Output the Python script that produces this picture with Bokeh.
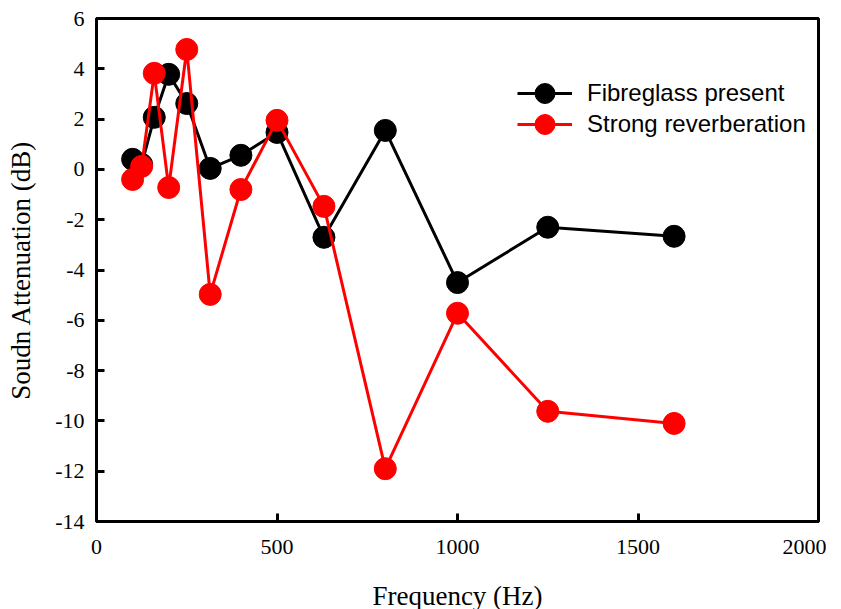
from bokeh.plotting import figure
from bokeh.models import Range1d, FixedTicker, Legend, LegendItem, CustomJSTickFormatter
from bokeh.embed import file_html
from bokeh.resources import INLINE

freq = [100, 125, 160, 200, 250, 315, 400, 500, 630, 800, 1000, 1250, 1600]
fibreglass = [0.4, 0.2, 2.07, 3.78, 2.62, 0.04, 0.56, 1.47, -2.7, 1.55, -4.5, -2.3, -2.66]
reverb = [-0.4, 0.12, 3.82, -0.72, 4.77, -4.97, -0.8, 1.95, -1.47, -11.9, -5.72, -9.62, -10.1]
x_ticks = [0, 500, 1000, 1500, 2000]
y_ticks = list(range(-14, 7, 2))

p = figure(frame_width=722, frame_height=503, output_backend="svg", toolbar_location=None,
           x_range=Range1d(0, 2000), y_range=Range1d(-14, 6),
           min_border_left=96, min_border_right=8, min_border_top=18, min_border_bottom=70)
p.background_fill_color = "white"
p.border_fill_color = "white"
p.grid.visible = False
p.outline_line_color = "black"
p.outline_line_width = 3

fmt = CustomJSTickFormatter(code="return tick.toString();")
for ax in (p.xaxis[0], p.yaxis[0]):
    ax.axis_line_width = 3
    ax.axis_line_color = "black"
    ax.major_tick_in = 8
    ax.major_tick_out = 0
    ax.major_tick_line_width = 3
    ax.minor_tick_line_color = None
    ax.formatter = fmt
    ax.major_label_text_font = "Liberation Serif"
    ax.major_label_text_font_size = "22px"
    ax.major_label_text_color = "black"
    ax.axis_label_text_font = "Liberation Serif"
    ax.axis_label_text_font_size = "27px"
    ax.axis_label_text_font_style = "normal"
    ax.axis_label_text_color = "black"

p.xaxis.ticker = FixedTicker(ticks=x_ticks)
p.yaxis.ticker = FixedTicker(ticks=y_ticks)
p.xaxis.axis_label = "Frequency (Hz)"
p.yaxis.axis_label = "Soudn Attenuation (dB)"
p.xaxis.major_label_standoff = 18
p.xaxis.axis_label_standoff = 24
p.yaxis.major_label_standoff = 12
p.yaxis.axis_label_standoff = 16

l1 = p.line(freq, fibreglass, line_color="black", line_width=3)
c1 = p.scatter(freq, fibreglass, size=22, fill_color="black", line_color="black")
l2 = p.line(freq, reverb, line_color="#ff0000", line_width=3)
c2 = p.scatter(freq, reverb, size=22, fill_color="#ff0000", line_color="#ff0000")

def make_legend(label, renderers, loc):
    lg = Legend(items=[LegendItem(label=label, renderers=renderers)], location=loc)
    lg.border_line_color = None
    lg.background_fill_alpha = 0
    lg.label_text_font = "Liberation Sans"
    lg.label_text_font_size = "24px"
    lg.label_text_color = "black"
    lg.glyph_width = 55
    lg.glyph_height = 50
    lg.label_height = 50
    lg.label_standoff = 15
    lg.padding = 5
    return lg

p.add_layout(make_legend("Fibreglass present", [l1, c1], (421, 403)))
p.add_layout(make_legend("Strong reverberation", [l2, c2], (421, 372)))

open("out.html", "w").write(file_html(p, INLINE))
